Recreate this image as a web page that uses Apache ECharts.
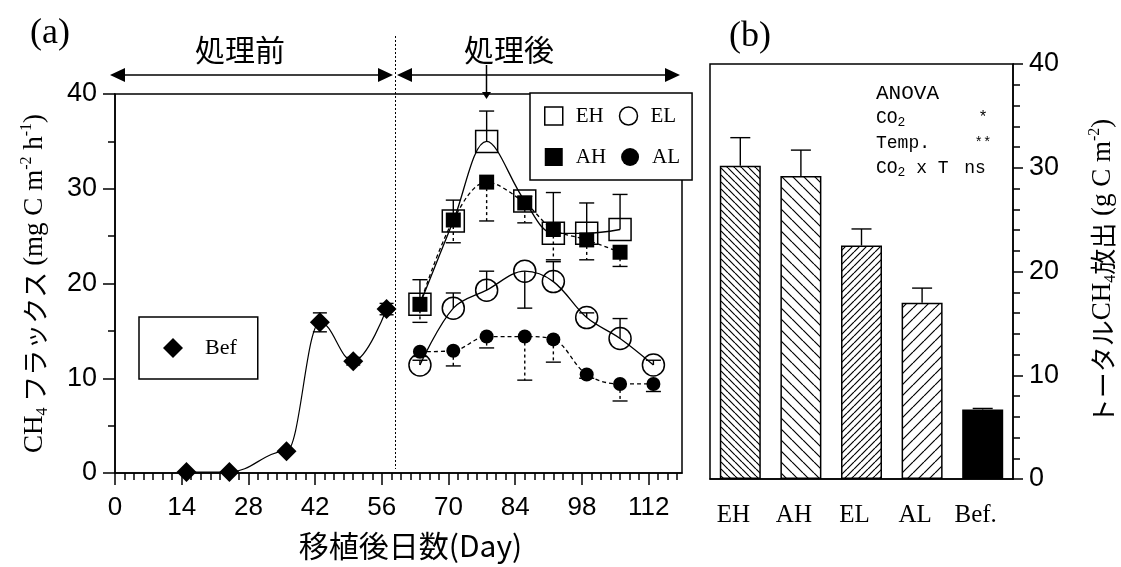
<!DOCTYPE html>
<html><head><meta charset="utf-8">
<script src="https://cdn.jsdelivr.net/npm/echarts@6/dist/echarts.min.js"></script>
<style>html,body{margin:0;padding:0;background:#fff}#c{width:1121px;height:567px}</style>
</head><body><div id="c"></div>
<script>
// ---------- data (panel a: CH4 flux, mg C m-2 h-1) ----------
const befDays = [15, 24, 36, 43, 50, 57];
const befFlux = [0.1, 0.1, 2.3, 15.9, 11.8, 17.3];
const befErr  = [0, 0, 0, 1.0, 0.4, 0.6];
const hDays   = [64, 71, 78, 86, 92, 99, 106];
const ehFlux  = [17.8, 26.6, 35.0, 28.7, 25.3, 25.3, 25.7];
const ehErr   = [2.6, 2.2, 3.2, 0.5, 4.3, 3.2, 3.7];
const ahFlux  = [17.8, 26.7, 30.7, 28.5, 25.7, 24.6, 23.3];
const ahErr   = [-1.9, -2.4, -4.1, -2.1, -3.2, -2.1, -1.5];
const lDays   = [64, 71, 78, 86, 92, 99, 106, 113];
const elFlux  = [11.4, 17.4, 19.3, 21.3, 20.2, 16.4, 14.2, 11.4];
const elErr   = [0.5, 1.6, 2.0, -3.9, 2.1, 0.5, 2.1, 0.5];
const alFlux  = [12.8, 12.9, 14.4, 14.4, 14.1, 10.4, 9.4, 9.4];
const alErr   = [-0.5, -1.6, -1.2, -4.6, -2.4, -0.4, -1.8, -0.8];
const dayTicks = [0, 14, 28, 42, 56, 70, 84, 98, 112];
// ---------- data (panel b: total CH4 emission, g C m-2) ----------
const totalCats = ['EH', 'AH', 'EL', 'AL', 'Bef.'];
const totalVals = [30.2, 29.2, 22.5, 17.0, 6.7];
const totalErr  = [2.7, 2.5, 1.6, 1.4, 0.1];

const minorDayTicks = [];
for (let d = 2; d < 119; d += 2) if (d % 14 !== 0) minorDayTicks.push(d);

function hatch(step, dir) {
  const c = document.createElement('canvas');
  c.width = step; c.height = step;
  const g = c.getContext('2d');
  g.fillStyle = '#fff'; g.fillRect(0, 0, step, step);
  g.strokeStyle = '#000'; g.lineWidth = 1.2; g.beginPath();
  for (let k = -1; k <= 1; k++) {
    if (dir === 'back') { g.moveTo(k * step, 0); g.lineTo(k * step + step, step); }
    else { g.moveTo(k * step, step); g.lineTo(k * step + step, 0); }
  }
  g.stroke();
  return { image: c, repeat: 'repeat' };
}
const barFills = [hatch(7, 'back'), hatch(11, 'back'), hatch(7, 'fwd'), hatch(11, 'fwd'), '#000'];

function errRender(cap, dash, both) {
  return function (params, api) {
    const x = api.value(0), y = api.value(1), e = api.value(2);
    if (!e) return null;
    const c = api.coord([x, y]);
    const t = api.coord([x, y + e]);
    const b = both ? api.coord([x, y - e]) : c;
    const st = { stroke: '#000', lineWidth: 1.4, fill: null, lineDash: dash || null };
    const cs = { stroke: '#000', lineWidth: 1.4, fill: null };
    const ch = [
      { type: 'line', shape: { x1: c[0], y1: b[1], x2: c[0], y2: t[1] }, style: st },
      { type: 'line', shape: { x1: c[0] - cap / 2, y1: t[1], x2: c[0] + cap / 2, y2: t[1] }, style: cs }
    ];
    if (both) ch.push({ type: 'line', shape: { x1: c[0] - cap / 2, y1: b[1], x2: c[0] + cap / 2, y2: b[1] }, style: cs });
    return { type: 'group', children: ch };
  };
}
const zip = (xs, ys, es) => xs.map((x, i) => [x, ys[i], es[i]]);

const serif = 'Liberation Serif', sans = 'Liberation Sans', jp = 'Noto Sans CJK JP', mono = 'Liberation Mono';
const richTitle = {
  s: { fontFamily: serif, fontSize: 27, color: '#000', lineHeight: 32 },
  j: { fontFamily: jp, fontSize: 26, color: '#000', lineHeight: 32 },
  sub: { fontFamily: serif, fontSize: 16, color: '#000', lineHeight: 16, verticalAlign: 'bottom' },
  sup: { fontFamily: serif, fontSize: 16, color: '#000', lineHeight: 16, verticalAlign: 'top' }
};

function arrowHead(tx, ty, dir) { // dir: -1 left, 1 right
  return { type: 'polygon', shape: { points: [[tx, ty], [tx - dir * 15, ty - 7], [tx - dir * 15, ty + 7]] }, style: { fill: '#000' } };
}

const chart = echarts.init(document.getElementById('c'), null, { renderer: 'canvas' });
const lineBlack = { color: '#000', width: 1.5 };
chart.setOption({
  animation: false,
  backgroundColor: '#fff',
  grid: [
    { left: 115, top: 94, width: 567, height: 379, show: true, borderColor: '#000', borderWidth: 1.5, backgroundColor: 'transparent', outerBoundsMode: 'none' },
    { left: 710, top: 64, width: 303, height: 415, show: true, borderColor: '#000', borderWidth: 1.5, backgroundColor: 'transparent', outerBoundsMode: 'none' }
  ],
  xAxis: [
    { gridIndex: 0, type: 'value', position: 'bottom', min: 0, max: 119, splitLine: { show: false },
      axisLine: { onZero: false, lineStyle: lineBlack },
      axisTick: { length: 12, lineStyle: lineBlack, customValues: dayTicks },
      axisLabel: { customValues: dayTicks, color: '#000', fontFamily: sans, fontSize: 26, margin: 22 },
      name: '移植後日数(Day)', nameLocation: 'middle', nameGap: 58,
      nameTextStyle: { fontFamily: jp, fontSize: 30, color: '#000', padding: [0, 0, 0, 24] } },
    { gridIndex: 0, type: 'value', position: 'bottom', offset: 0, min: 0, max: 119, splitLine: { show: false },
      axisLine: { show: false, onZero: false },
      axisTick: { length: 7, lineStyle: lineBlack, customValues: minorDayTicks },
      axisLabel: { show: false } },
    { gridIndex: 1, type: 'category', data: totalCats, boundaryGap: true,
      axisLine: { lineStyle: lineBlack },
      axisTick: { length: 16, lineStyle: lineBlack, alignWithLabel: false },
      axisLabel: { color: '#000', fontFamily: serif, fontSize: 25, margin: 24, padding: [0, 14, 0, 0] } }
  ],
  yAxis: [
    { gridIndex: 0, type: 'value', min: 0, max: 40, interval: 10, splitLine: { show: false },
      axisLine: { show: true, lineStyle: lineBlack },
      axisTick: { show: true, length: 12, lineStyle: lineBlack },
      minorTick: { show: true, splitNumber: 2, length: 7, lineStyle: lineBlack },
      axisLabel: { color: '#000', fontFamily: sans, fontSize: 27, margin: 18 },
      name: '{s|CH}{sub|4}{j| フラックス }{s|(mg C m}{sup|-2}{s| h}{sup|-1}{s|)}',
      nameLocation: 'middle', nameGap: 64, nameRotate: 90,
      nameTextStyle: { rich: richTitle } },
    { gridIndex: 1, type: 'value', position: 'right', min: 0, max: 40, interval: 10, splitLine: { show: false },
      axisLine: { show: true, lineStyle: lineBlack },
      axisTick: { show: true, length: 10, lineStyle: lineBlack },
      minorTick: { show: true, splitNumber: 5, length: 7, lineStyle: lineBlack },
      axisLabel: { color: '#000', fontFamily: sans, fontSize: 27, margin: 16 },
      name: '{j|トータル}{s|CH}{sub|4}{j|放出}{s| (g C m}{sup|-2}{s|)}',
      nameLocation: 'middle', nameGap: 74, nameRotate: 90,
      nameTextStyle: { rich: richTitle } }
  ],
  legend: [
    { data: [
        { name: 'EH', icon: 'rect', itemStyle: { color: 'rgba(0,0,0,0)', borderColor: '#000', borderWidth: 1.5 } },
        { name: 'EL', icon: 'circle', itemStyle: { color: 'rgba(0,0,0,0)', borderColor: '#000', borderWidth: 1.5 } },
        { name: 'AH', icon: 'rect', itemStyle: { color: '#000', borderWidth: 0 } },
        { name: 'AL', icon: 'circle', itemStyle: { color: '#000', borderWidth: 0 } }
      ],
      left: 530, top: 93, width: 150, orient: 'horizontal', itemGap: 15, itemWidth: 18, itemHeight: 18,
      padding: [10, 12, 10, 14], borderColor: '#000', borderWidth: 1.5, backgroundColor: '#fff', selectedMode: false,
      textStyle: { fontFamily: serif, fontSize: 21, color: '#000', lineHeight: 26, padding: [0, 0, 0, 8] } },
    { data: [{ name: 'Bef', icon: 'diamond', itemStyle: { color: '#000', borderWidth: 0 } }],
      left: 139, top: 317, orient: 'horizontal', itemWidth: 20, itemHeight: 20,
      padding: [20, 21, 20, 24], borderColor: '#000', borderWidth: 1.5, backgroundColor: '#fff', selectedMode: false,
      textStyle: { fontFamily: serif, fontSize: 22, color: '#000', padding: [0, 0, 0, 17] } }
  ],
  series: [
    { name: 'Bef', type: 'line', xAxisIndex: 0, yAxisIndex: 0, data: befDays.map((d, i) => [d, befFlux[i]]),
      smooth: 0.4, smoothMonotone: 'x', symbol: 'diamond', symbolSize: 20,
      itemStyle: { color: '#000' }, lineStyle: { color: '#000', width: 1.2 }, z: 3 },
    { name: 'Bef_err', type: 'custom', xAxisIndex: 0, yAxisIndex: 0, renderItem: errRender(14, null, true),
      data: zip(befDays, befFlux, befErr), silent: true, z: 2 },
    { name: 'EH', type: 'line', xAxisIndex: 0, yAxisIndex: 0, data: hDays.map((d, i) => [d, ehFlux[i]]),
      smooth: 0.35, symbol: 'rect', symbolSize: 22,
      itemStyle: { color: 'rgba(0,0,0,0)', borderColor: '#000', borderWidth: 1.5 },
      lineStyle: { color: '#000', width: 1.3 }, z: 3 },
    { name: 'EH_err', type: 'custom', xAxisIndex: 0, yAxisIndex: 0, renderItem: errRender(15, null, false),
      data: zip(hDays, ehFlux, ehErr), silent: true, z: 2 },
    { name: 'AH', type: 'line', xAxisIndex: 0, yAxisIndex: 0, data: hDays.map((d, i) => [d, ahFlux[i]]),
      smooth: 0.35, symbol: 'rect', symbolSize: 15,
      itemStyle: { color: '#000' }, lineStyle: { color: '#000', width: 1.3, type: [4, 3] }, z: 4 },
    { name: 'AH_err', type: 'custom', xAxisIndex: 0, yAxisIndex: 0, renderItem: errRender(15, [3, 3], false),
      data: zip(hDays, ahFlux, ahErr), silent: true, z: 2 },
    { name: 'EL', type: 'line', xAxisIndex: 0, yAxisIndex: 0, data: lDays.map((d, i) => [d, elFlux[i]]),
      smooth: 0.35, symbol: 'circle', symbolSize: 22,
      itemStyle: { color: 'rgba(0,0,0,0)', borderColor: '#000', borderWidth: 1.5 },
      lineStyle: { color: '#000', width: 1.3 }, z: 3 },
    { name: 'EL_err', type: 'custom', xAxisIndex: 0, yAxisIndex: 0, renderItem: errRender(15, null, false),
      data: zip(lDays, elFlux, elErr), silent: true, z: 2 },
    { name: 'AL', type: 'line', xAxisIndex: 0, yAxisIndex: 0, data: lDays.map((d, i) => [d, alFlux[i]]),
      smooth: 0.35, symbol: 'circle', symbolSize: 14,
      itemStyle: { color: '#000' }, lineStyle: { color: '#000', width: 1.3, type: [4, 3] }, z: 4 },
    { name: 'AL_err', type: 'custom', xAxisIndex: 0, yAxisIndex: 0, renderItem: errRender(15, [3, 3], false),
      data: zip(lDays, alFlux, alErr), silent: true, z: 2 },
    { name: 'total', type: 'bar', xAxisIndex: 2, yAxisIndex: 1, barWidth: 41,
      data: totalVals.map((v, i) => ({ value: v, itemStyle: { color: barFills[i], borderColor: '#000', borderWidth: 1.5 } })),
      z: 2 },
    { name: 'total_err', type: 'custom', xAxisIndex: 2, yAxisIndex: 1, renderItem: errRender(20, null, false),
      data: totalVals.map((v, i) => [i, v, totalErr[i]]), silent: true, z: 1 }
  ],
  graphic: [
    { type: 'text', x: 50, y: 34, style: { text: '(a)', fontFamily: serif, fontSize: 36, fill: '#000', align: 'center', verticalAlign: 'middle' } },
    { type: 'text', x: 750, y: 37, style: { text: '(b)', fontFamily: serif, fontSize: 36, fill: '#000', align: 'center', verticalAlign: 'middle' } },
    { type: 'text', x: 240, y: 50, style: { text: '処理前', fontFamily: jp, fontSize: 30, fill: '#000', align: 'center', verticalAlign: 'middle' } },
    { type: 'text', x: 509, y: 50, style: { text: '処理後', fontFamily: jp, fontSize: 30, fill: '#000', align: 'center', verticalAlign: 'middle' } },
    { type: 'line', shape: { x1: 112, y1: 75, x2: 391, y2: 75 }, style: { stroke: '#000', lineWidth: 1.5 } },
    arrowHead(110, 75, -1), arrowHead(393, 75, 1),
    { type: 'line', shape: { x1: 399, y1: 75, x2: 678, y2: 75 }, style: { stroke: '#000', lineWidth: 1.5 } },
    arrowHead(397, 75, -1), arrowHead(680, 75, 1),
    { type: 'line', shape: { x1: 486.5, y1: 65, x2: 486.5, y2: 94 }, style: { stroke: '#000', lineWidth: 1.5 } },
    { type: 'polygon', shape: { points: [[486.5, 99], [482, 92], [491, 92]] }, style: { fill: '#000' }, z: 10 },
    { type: 'line', shape: { x1: 395.5, y1: 36, x2: 395.5, y2: 469 }, style: { stroke: '#000', lineWidth: 1, lineDash: [2, 2] } },
    { type: 'text', x: 876, y: 93, style: { text: 'ANOVA', fontFamily: mono, fontSize: 21, fill: '#000', verticalAlign: 'middle' } },
    { type: 'text', x: 876, y: 118, style: { text: '{m|CO}{b|2}', verticalAlign: 'middle',
        rich: { m: { fontFamily: mono, fontSize: 18, fill: '#000', lineHeight: 22 }, b: { fontFamily: mono, fontSize: 13, fill: '#000', lineHeight: 13, verticalAlign: 'bottom' } } } },
    { type: 'text', x: 876, y: 143, style: { text: 'Temp.', fontFamily: mono, fontSize: 18, fill: '#000', verticalAlign: 'middle' } },
    { type: 'text', x: 876, y: 168, style: { text: '{m|CO}{b|2}{m| x T}', verticalAlign: 'middle',
        rich: { m: { fontFamily: mono, fontSize: 18, fill: '#000', lineHeight: 22 }, b: { fontFamily: mono, fontSize: 13, fill: '#000', lineHeight: 13, verticalAlign: 'bottom' } } } },
    { type: 'text', x: 983, y: 118, style: { text: '*', fontFamily: mono, fontSize: 16, fill: '#000', align: 'center', verticalAlign: 'middle' } },
    { type: 'text', x: 983, y: 143, style: { text: '**', fontFamily: mono, fontSize: 14, fill: '#000', align: 'center', verticalAlign: 'middle' } },
    { type: 'text', x: 975, y: 168, style: { text: 'ns', fontFamily: mono, fontSize: 18, fill: '#000', align: 'center', verticalAlign: 'middle' } }
  ]
});
</script></body></html>
